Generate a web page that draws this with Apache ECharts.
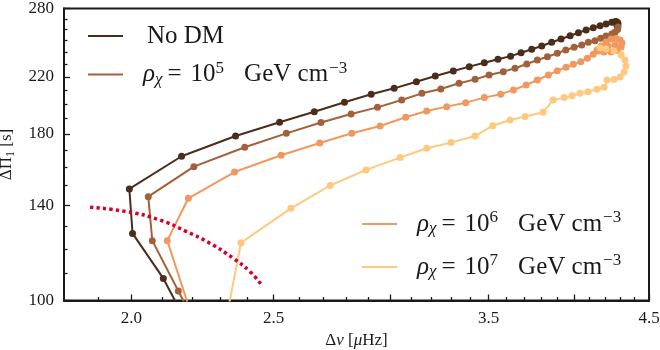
<!DOCTYPE html>
<html><head><meta charset="utf-8">
<script src="https://cdn.jsdelivr.net/npm/echarts@6/dist/echarts.min.js"></script>
<style>html,body{margin:0;padding:0;background:#fff}#c{width:660px;height:350px}</style>
</head><body><div id="c"></div>
<script>
// ---- data ----
const noDM_x = [2.176, 2.103, 2.004, 1.994, 2.164, 2.355, 2.523, 2.664, 2.793, 2.912, 3.019, 3.126, 3.220, 3.312, 3.396, 3.477, 3.552, 3.623, 3.683, 3.745, 3.804, 3.864, 3.921, 3.977, 4.029, 4.078, 4.124, 4.168, 4.207, 4.245, 4.267, 4.274, 4.284, 4.287, 4.280];
const noDM_y = [93.4, 108.1, 126.7, 148.2, 166.3, 178.6, 187.5, 194.6, 201.2, 206.9, 211.3, 216.3, 220.7, 224.6, 228.1, 231.3, 234.1, 236.7, 239.6, 242.5, 245.3, 248.6, 251.5, 254.4, 257.1, 259.6, 261.7, 263.5, 265.1, 266.7, 267.3, 267.5, 266.5, 265.1, 263.7];
const rho5_x = [2.201, 2.153, 2.067, 2.054, 2.206, 2.389, 2.550, 2.692, 2.822, 2.941, 3.055, 3.153, 3.248, 3.342, 3.427, 3.503, 3.582, 3.648, 3.716, 3.778, 3.838, 3.898, 3.950, 4.002, 4.050, 4.092, 4.135, 4.172, 4.207, 4.245, 4.267, 4.284, 4.287];
const rho5_y = [93.9, 103.4, 123.5, 144.2, 160.3, 171.7, 180.3, 187.3, 193.0, 197.6, 202.8, 207.6, 210.8, 215.1, 218.1, 221.5, 224.1, 226.8, 230.2, 233.5, 236.2, 239.1, 241.9, 244.2, 246.2, 248.6, 250.0, 252.1, 254.1, 255.9, 257.7, 260.0, 262.3];
const rho6_x = [2.199, 2.116, 2.187, 2.351, 2.529, 2.687, 2.825, 2.953, 3.074, 3.177, 3.278, 3.377, 3.477, 3.567, 3.639, 3.712, 3.778, 3.844, 3.898, 3.952, 3.997, 4.044, 4.086, 4.124, 4.148, 4.175, 4.207, 4.240, 4.274, 4.301, 4.314, 4.308, 4.280, 4.240, 4.194, 4.161, 4.220, 4.267];
const rho6_y = [94.7, 123.5, 143.4, 157.3, 166.9, 174.3, 180.3, 185.0, 190.8, 195.1, 198.1, 200.9, 204.5, 207.0, 210.1, 213.8, 217.6, 221.5, 224.9, 227.6, 230.0, 232.1, 234.9, 238.3, 241.9, 245.3, 248.8, 251.5, 251.9, 250.6, 247.9, 244.5, 241.9, 240.2, 240.2, 241.0, 245.3, 246.2];
const rho7_x = [2.320, 2.375, 2.568, 2.731, 2.889, 3.047, 3.177, 3.300, 3.427, 3.523, 3.620, 3.706, 3.812, 3.872, 3.940, 3.989, 4.039, 4.090, 4.148, 4.194, 4.214, 4.260, 4.301, 4.328, 4.341, 4.334, 4.308, 4.260, 4.207, 4.168];
const rho7_y = [93.4, 122.6, 138.4, 150.0, 158.5, 165.5, 171.1, 174.5, 178.6, 185.2, 189.0, 191.3, 194.2, 202.8, 204.5, 205.9, 207.6, 208.8, 210.6, 212.1, 217.6, 218.0, 219.9, 223.8, 228.6, 233.5, 237.7, 241.0, 242.8, 243.6];
const bound_x = [1.875, 1.986, 2.092, 2.181, 2.262, 2.347, 2.409, 2.453];
const bound_y = [138.9, 136.8, 132.8, 127.5, 122.4, 116.0, 110.7, 105.6];

const xMajorTicks = [2.0, 2.5, 3.0, 3.5, 4.0, 4.5];
const xTickLabels = [2.0, 2.5, 3.5, 4.5];
const xMinorTicks = [1.9, 2.1, 2.2, 2.3, 2.4, 2.6, 2.7, 2.8, 2.9, 3.1, 3.2, 3.3, 3.4, 3.6, 3.7, 3.8, 3.9, 4.1, 4.2, 4.3, 4.4];
const yTickLabels = [100, 140, 180, 220, 280];
const yMinorTicks = [110, 120, 130, 150, 160, 170, 190, 200, 210, 230, 240, 250, 260, 270];

const COLORS = ['#4b2d1b', '#a2613a', '#f0985d', '#fec87e'];
const RED = '#d6002b';
const SERIF = "'Liberation Serif', 'DejaVu Serif', serif";
const INK = '#1a1a1a';

const zip = (xs, ys) => xs.map((x, i) => [x, ys[i]]);

const rich = {
  n: {fontFamily: SERIF, fontSize: 25, color: INK, padding: [0, 0, 0, 19]},
  r: {fontFamily: SERIF, fontSize: 25, fontStyle: 'italic', color: INK, padding: [0, 0, 0, 15]},
  sub: {fontFamily: SERIF, fontSize: 17, fontStyle: 'italic', color: INK, padding: [10, 0, 0, 0]},
  eq: {fontFamily: SERIF, fontSize: 25, color: INK, padding: [0, 9, 0, 5]},
  t: {fontFamily: SERIF, fontSize: 25, color: INK},
  sup: {fontFamily: SERIF, fontSize: 17, color: INK, padding: [0, 0, 12, 0]},
  g: {fontFamily: SERIF, fontSize: 25, color: INK, padding: [0, 1, 0, 20]}
};
const rhoText = e => `{r|ρ}{sub|χ}{eq|=}{t|10}{sup|${e}}{g|GeV cm}{sup|−3}`;
const LEG = {'No DM': '{n|No DM}', 'rho5': rhoText(5), 'rho6': rhoText(6), 'rho7': rhoText(7)};

function mkLegend(name, left, top) {
  return {
    data: [name], left, top, padding: 0, icon: 'rect', itemWidth: 35, itemHeight: 2,
    formatter: n => LEG[n], textStyle: {fontFamily: SERIF, fontSize: 25, color: INK, rich}
  };
}

const GRID = {left: 64, right: 11, top: 8.5, bottom: 49.5, outerBoundsMode: 'none', containLabel: false};
const tickStyle = {color: INK, width: 1.3};
const nameRich = {
  m: {fontFamily: SERIF, fontSize: 17, fontStyle: 'italic', color: INK},
  s: {fontFamily: SERIF, fontSize: 12, color: INK, padding: [8, 0, 0, 0]}
};

const option = {
  animation: false,
  backgroundColor: '#fff',
  grid: [
    Object.assign({show: true, borderColor: INK, borderWidth: 2, backgroundColor: 'transparent'}, GRID),
    Object.assign({show: false}, GRID)
  ],
  legend: [
    mkLegend('No DM', 88, 23.5),
    mkLegend('rho5', 88, 60),
    mkLegend('rho6', 362, 209.5),
    mkLegend('rho7', 362, 252.5)
  ],
  xAxis: [
    {
      type: 'log', logBase: 10, min: 1.8, max: 4.5, gridIndex: 0,
      name: 'Δ{m|ν} [{m|μ}Hz]', nameLocation: 'middle', nameGap: 28,
      nameTextStyle: {fontFamily: SERIF, fontSize: 17, color: INK, rich: nameRich},
      axisLine: {show: true, lineStyle: {color: INK, width: 2}},
      axisTick: {show: true, inside: true, length: 6, customValues: xMajorTicks, lineStyle: tickStyle},
      axisLabel: {customValues: xTickLabels, formatter: v => Number(v).toFixed(1), margin: 10,
        fontFamily: SERIF, fontSize: 17, color: INK},
      splitLine: {show: false}, minorTick: {show: false}
    },
    {
      type: 'log', logBase: 10, min: 1.8, max: 4.5, gridIndex: 1,
      axisLine: {show: false},
      axisTick: {show: true, inside: true, length: 3.5, customValues: xMinorTicks, lineStyle: tickStyle},
      axisLabel: {show: false}, splitLine: {show: false}
    }
  ],
  yAxis: [
    {
      type: 'log', logBase: 10, min: 100, max: 280, gridIndex: 0,
      name: 'ΔΠ{s|1} [s]', nameLocation: 'middle', nameGap: 47,
      nameTextStyle: {fontFamily: SERIF, fontSize: 17, color: INK, rich: nameRich},
      axisLine: {show: true, lineStyle: {color: INK, width: 2}},
      axisTick: {show: true, inside: true, length: 6, customValues: yTickLabels, lineStyle: tickStyle},
      axisLabel: {customValues: yTickLabels, formatter: v => String(Math.round(v)), margin: 10,
        fontFamily: SERIF, fontSize: 17, color: INK},
      splitLine: {show: false}
    },
    {
      type: 'log', logBase: 10, min: 100, max: 280, gridIndex: 1,
      axisLine: {show: false},
      axisTick: {show: true, inside: true, length: 3.5, customValues: yMinorTicks, lineStyle: tickStyle},
      axisLabel: {show: false}, splitLine: {show: false}
    }
  ],
  series: [
    ['No DM', noDM_x, noDM_y], ['rho5', rho5_x, rho5_y], ['rho6', rho6_x, rho6_y], ['rho7', rho7_x, rho7_y]
  ].map(([name, xs, ys], i) => ({
    name, type: 'line', xAxisIndex: 0, yAxisIndex: 0, data: zip(xs, ys),
    symbol: 'circle', symbolSize: 7, showSymbol: true, clip: true,
    lineStyle: {color: COLORS[i], width: 2}, itemStyle: {color: COLORS[i]},
    emphasis: {disabled: true}
  })).concat([{
    name: 'bound', type: 'line', xAxisIndex: 0, yAxisIndex: 0, data: zip(bound_x, bound_y),
    smooth: true, symbol: 'none', clip: true,
    lineStyle: {color: RED, width: 3.5, type: [3.3, 3.2]}, itemStyle: {color: RED},
    emphasis: {disabled: true}
  }])
};

const chart = echarts.init(document.getElementById('c'), null, {renderer: 'canvas'});
chart.setOption(option);
</script>
</body></html>
